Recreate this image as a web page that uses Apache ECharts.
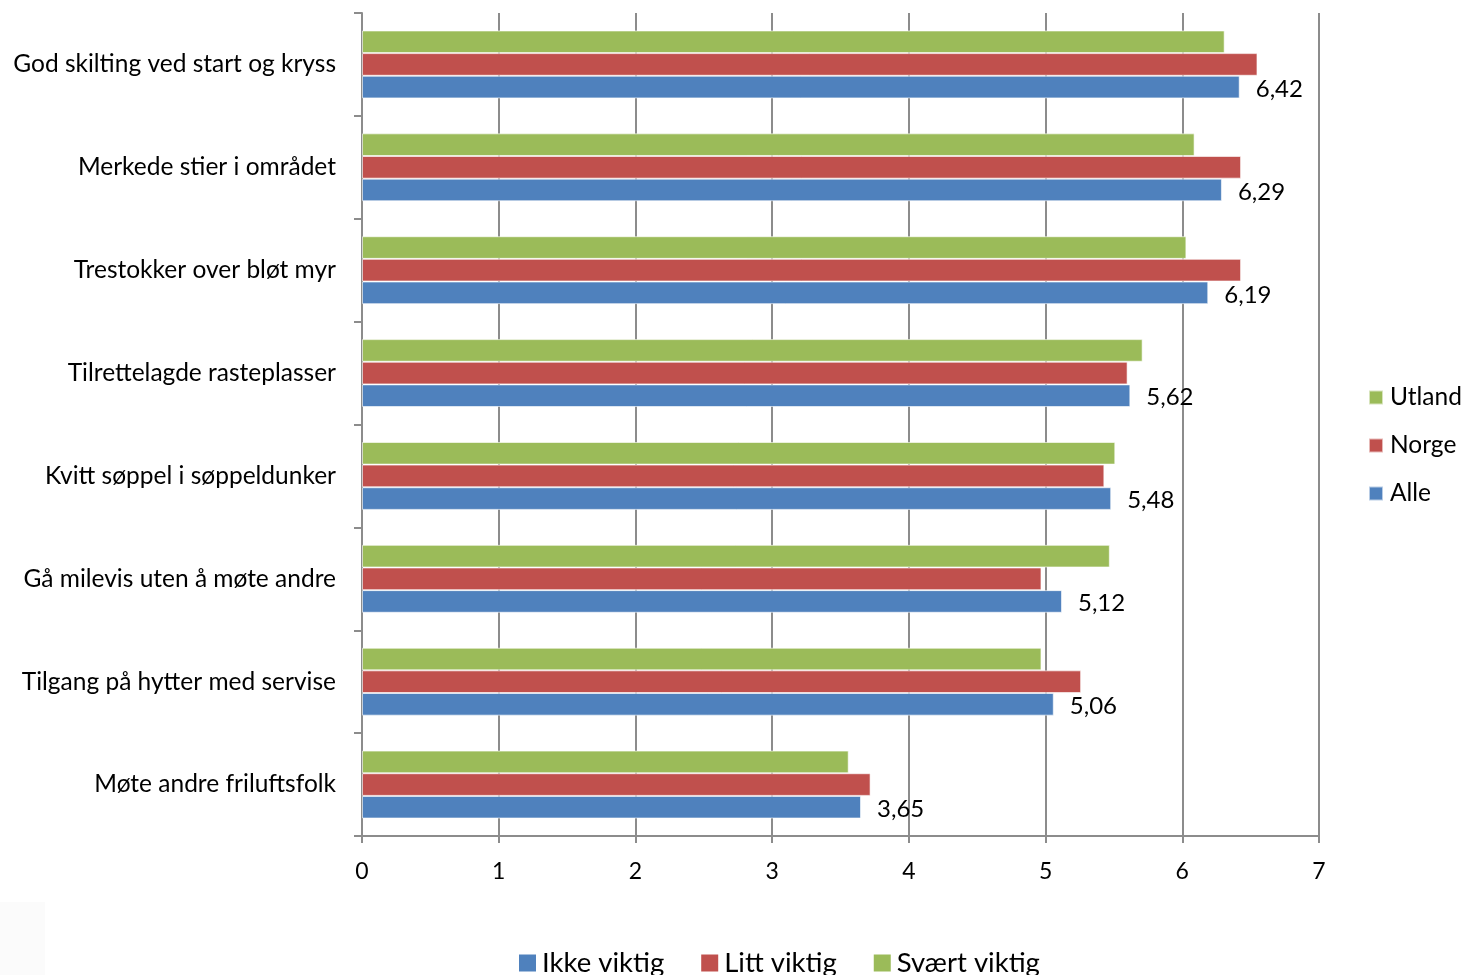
<!DOCTYPE html>
<html>
<head>
<meta charset="utf-8">
<script src="https://cdn.jsdelivr.net/npm/echarts@6/dist/echarts.min.js"></script>
<style>html,body{margin:0;padding:0;background:#fff}#c{width:1465px;height:975px}</style>
</head>
<body>
<div id="c"></div>
<script>
var categories = ["God skilting ved start og kryss","Merkede stier i området","Trestokker over bløt myr","Tilrettelagde rasteplasser","Kvitt søppel i søppeldunker","Gå milevis uten å møte andre","Tilgang på hytter med servise","Møte andre friluftsfolk"];
var utland = [6.31, 6.09, 6.03, 5.71, 5.51, 5.47, 4.97, 3.56];
var norge  = [6.55, 6.43, 6.43, 5.60, 5.43, 4.97, 5.26, 3.72];
var alle   = [6.42, 6.29, 6.19, 5.62, 5.48, 5.12, 5.06, 3.65];
var xTicks = [0, 1, 2, 3, 4, 5, 6, 7];
var bottomLegend = ["Ikke viktig", "Litt viktig", "Svært viktig"];

var FONT = "Lato";
var chart = echarts.init(document.getElementById('c'));
var barStyle = function(c){ return {color: c, borderColor: 'rgba(255,255,255,0.6)', borderWidth: 1}; };
chart.setOption({
  animation: false,
  backgroundColor: '#fff',
  textStyle: {fontFamily: FONT, color: '#000'},
  grid: {left: 362, right: 146, top: 13, bottom: 139, containLabel: false},
  xAxis: {
    type: 'value', min: xTicks[0], max: xTicks[xTicks.length-1], interval: 1,
    axisLine: {show: true, lineStyle: {color: '#8c8c8c', width: 2}},
    axisTick: {show: true, length: 7, lineStyle: {color: '#8c8c8c', width: 2}},
    splitLine: {show: true, lineStyle: {color: '#8c8c8c', width: 2}},
    axisLabel: {fontSize: 23, color: '#000', fontFamily: FONT, margin: 24}
  },
  yAxis: {
    type: 'category', data: categories, inverse: true,
    axisLine: {show: true, lineStyle: {color: '#8c8c8c', width: 2}},
    axisTick: {show: true, length: 8, alignWithLabel: false, lineStyle: {color: '#8c8c8c', width: 2}},
    axisLabel: {fontSize: 24.5, color: '#000', fontFamily: FONT, margin: 26}
  },
  legend: [
    {data: ['Utland','Norge','Alle'], orient: 'vertical', left: 1363, top: 380, itemWidth: 14, itemHeight: 14, itemGap: 23, icon: 'rect',
     textStyle: {fontSize: 24.5, fontFamily: FONT, color: '#000', padding: [0,0,0,2]}},
    {data: bottomLegend, orient: 'horizontal', left: 514, top: 944, itemWidth: 17, itemHeight: 17, itemGap: 37, icon: 'rect',
     textStyle: {fontSize: 27.5, fontFamily: FONT, color: '#000', padding: [0,0,0,1]}}
  ],
  graphic: [{type: 'rect', shape: {x: 0, y: 902, width: 45, height: 73}, style: {fill: '#fbfbfb'}, silent: true}],
  series: [
    {name: 'Utland', type: 'bar', data: utland, barGap: '0%', barCategoryGap: '34%', itemStyle: barStyle('#9BBB59')},
    {name: 'Norge', type: 'bar', data: norge, barGap: '0%', barCategoryGap: '34%', itemStyle: barStyle('#C0504D')},
    {name: 'Alle', type: 'bar', data: alle, barGap: '0%', barCategoryGap: '34%', itemStyle: barStyle('#4F81BD'),
     label: {show: true, position: 'right', distance: 16, offset: [0, 2], fontSize: 24, fontFamily: FONT, color: '#000',
       formatter: function(p){ return p.value.toFixed(2).replace('.', ','); }}},
    {name: bottomLegend[0], type: 'line', data: [], color: '#4F81BD'},
    {name: bottomLegend[1], type: 'line', data: [], color: '#C0504D'},
    {name: bottomLegend[2], type: 'line', data: [], color: '#9BBB59'}
  ]
});
</script>
</body>
</html>
